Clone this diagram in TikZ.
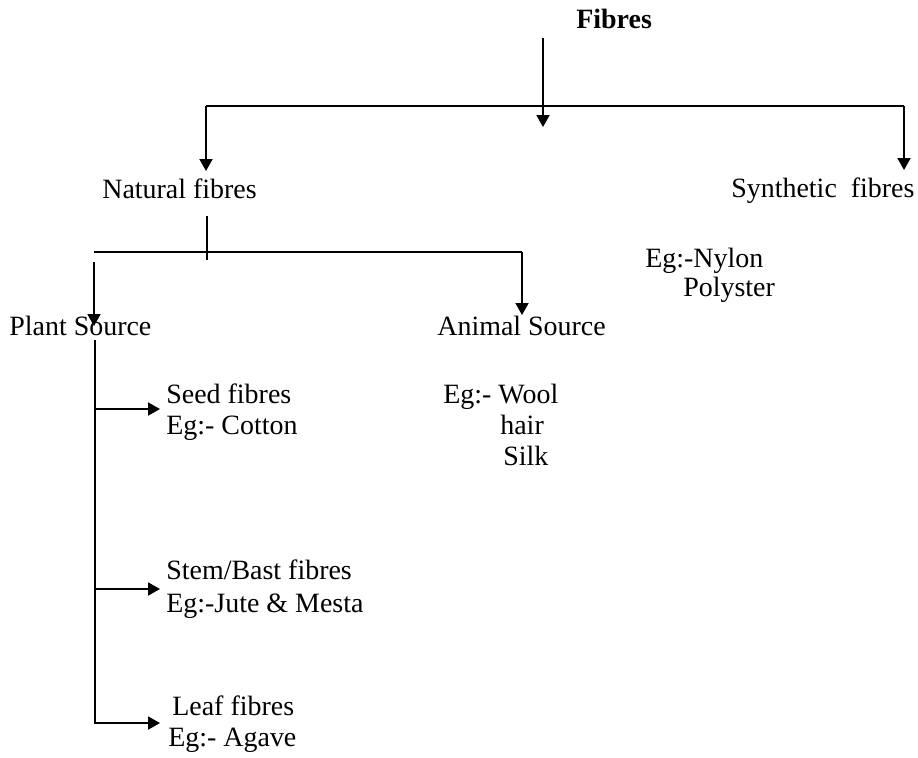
\documentclass[tikz,border=0pt]{standalone}
\usepackage{fontspec}
\setmainfont{Liberation Serif}
\usetikzlibrary{arrows.meta,positioning}

\begin{document}
\begin{tikzpicture}[
          >={Triangle[length=2.4mm,width=2.6mm]},line cap=butt,
          lbl/.style={anchor=base west,inner sep=0pt,
                      font=\fontsize{15.9}{18}\selectfont},
          hd/.style={lbl,font=\fontsize{15.9}{18}\selectfont\bfseries},
          ln/.style={line width=1.1pt},
          arr/.style={ln,->}]
        \useasboundingbox (0,0) rectangle (18.36,-15.14);
        % texts
        \node[hd]  (fibres)  at (11.52,-0.56) {Fibres};
        \node[lbl] (natural) at (2.04,-3.96)  {Natural fibres};
        \node[lbl] (synth)   at (14.62,-3.94) {Synthetic\ \ fibres};
        \node[lbl] (nylon)   at (12.90,-5.34) {Eg:-Nylon};
        \node[lbl] (polyster) at (13.66,-5.92) {Polyster};
        \node[lbl] (plant)   at (0.18,-6.70)  {Plant Source};
        \node[lbl] (animal)  at (8.74,-6.70)  {Animal Source};
        \node[lbl] (wool)    at (8.86,-8.06)  {Eg:- Wool};
        \node[lbl] (hair)    at (10.00,-8.68) {hair};
        \node[lbl] (silk)    at (10.06,-9.30) {Silk};
        \node[lbl] (seed)    at (3.32,-8.06)  {Seed fibres};
        \node[lbl] (cotton)  at (3.32,-8.68)  {Eg:- Cotton};
        \node[lbl] (stem)    at (3.32,-11.58) {Stem/Bast fibres};
        \node[lbl] (jute)    at (3.32,-12.24) {Eg:-Jute \& Mesta};
        \node[lbl] (leaf)    at (3.44,-14.30) {Leaf fibres};
        \node[lbl] (agave)   at (3.36,-14.92) {Eg:- Agave};
        % line ends
        \coordinate (f-top)  at (10.86,-0.76);
        \coordinate (f-tip)  at (10.86,-2.54);
        \coordinate (t-l)    at (4.12,-2.12);
        \coordinate (t-r)    at (18.08,-2.12);
        \coordinate (nat-in) at (4.12,-3.42);
        \coordinate (syn-in) at (18.08,-3.40);
        \coordinate (n-top)  at (4.14,-4.32);
        \coordinate (n-bot)  at (4.14,-5.20);
        \coordinate (s-l)    at (1.88,-5.04);
        \coordinate (s-r)    at (10.44,-5.04);
        \coordinate (ani-in) at (10.44,-6.30);
        \coordinate (p-top)  at (1.88,-5.24);
        \coordinate (pla-in) at (1.88,-6.52);
        \coordinate (v-top)  at (1.90,-6.80);
        \coordinate (v-seed) at (1.90,-8.18);
        \coordinate (v-stem) at (1.90,-11.78);
        \coordinate (seed-in) at (3.20,-8.18);
        \coordinate (stem-in) at (3.20,-11.78);
        \coordinate (leaf-in) at (3.20,-14.46);
        % connectors
        \draw[arr] (f-top) -- (f-tip);
        \draw[arr] (t-l) -- (nat-in);
        \draw[ln] (t-l) -- (t-r);
        \draw[arr] (t-r) -- (syn-in);
        \draw[ln] (n-top) -- (n-bot);
        \draw[ln] (s-l) -- (s-r);
        \draw[arr] (s-r) -- (ani-in);
        \draw[arr] (p-top) -- (pla-in);
        \draw[arr] (v-top) |- (leaf-in);
        \draw[arr] (v-seed) -- (seed-in);
        \draw[arr] (v-stem) -- (stem-in);
      \end{tikzpicture}
\end{document}
